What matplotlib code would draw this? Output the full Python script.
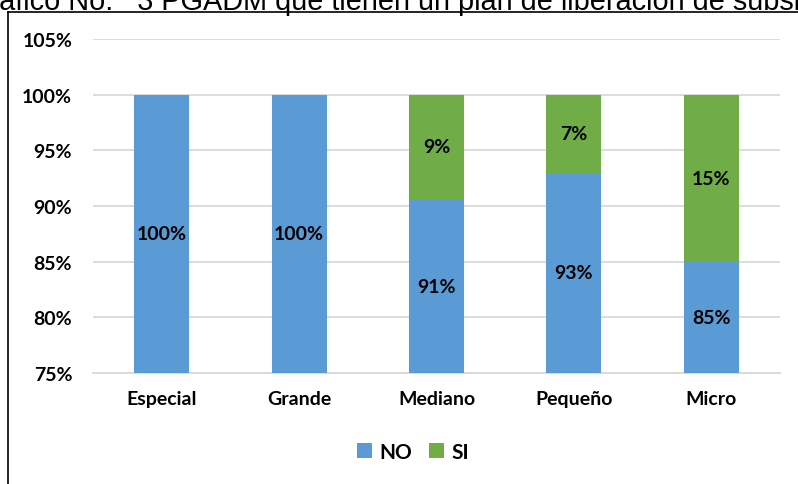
import matplotlib
matplotlib.use("Agg")
import matplotlib.pyplot as plt
from matplotlib.lines import Line2D
from matplotlib.patches import Patch

# Share of PGADM with / without a subsidy release plan, by municipality size
categories = ["Especial", "Grande", "Mediano", "Pequeño", "Micro"]
no_values = [100.0, 100.0, 90.6, 93.0, 85.0]
si_values = [0.0, 0.0, 9.4, 7.0, 15.0]
series_names = ["NO", "SI"]
y_ticks = [75, 80, 85, 90, 95, 100, 105]
title_lead = "Gráfico "
title_mid = "No.   3 PGADM que tienen un plan de "
title_tail = "liberación de subsidios"

BLUE = "#5B9BD5"
GREEN = "#70AD47"
GRID = "#D9D9D9"
W, H = 798, 485

plt.rcParams["font.family"] = ["Lato", "DejaVu Sans"]

fig = plt.figure(figsize=(W / 100, H / 100), dpi=100)
fig.patch.set_facecolor("white")
renderer = fig.canvas.get_renderer()
title_font = ["Liberation Sans", "DejaVu Sans"]


def text_width(s, size):
    t = fig.text(0, 0, s, fontsize=size, family=title_font)
    w = t.get_window_extent(renderer).width
    t.remove()
    return w


# caption above the framed chart, running past both figure edges:
# "No." starts at x=68 px and "liberación" at x=560 px
base = 22
w_x = text_width("X", base)
w_lead = text_width(title_lead + "X", base) - w_x
w_mid = text_width(title_lead + title_mid + "X", base) - w_x - w_lead
size = base * (560 - 68) / w_mid
start = 68 - w_lead * size / base
fig.text(start / W, 1 - 10 / H, title_lead + title_mid + title_tail,
         fontsize=size, family=title_font, ha="left", va="baseline")

# frame around the chart area
fig.add_artist(Line2D([7.5 / W, 7.5 / W], [1 - 12.5 / H, -0.05],
                      transform=fig.transFigure, color="black", lw=1.2))
fig.add_artist(Line2D([7.5 / W, 1.05], [1 - 12.5 / H, 1 - 12.5 / H],
                      transform=fig.transFigure, color="black", lw=1.2))

ax = fig.add_axes([93 / W, 1 - 374 / H, (780 - 93) / W, (374 - 40) / H])
ymin, ymax = y_ticks[0], y_ticks[-1]
x = list(range(len(categories)))
bw = 0.4

ax.bar(x, no_values, width=bw, color=BLUE, zorder=3)
ax.bar(x, si_values, width=bw, bottom=no_values, color=GREEN, zorder=3)

# value labels centred in the visible part of each segment
for i in x:
    segs = [(0.0, no_values[i]), (no_values[i], no_values[i] + si_values[i])]
    for lo, hi in segs:
        val = hi - lo
        if val <= 0:
            continue
        vis_lo, vis_hi = max(lo, ymin), min(hi, ymax)
        ax.text(i, (vis_lo + vis_hi) / 2, f"{val:.0f}%", ha="center",
                va="center", fontsize=14, fontweight="bold", color="black",
                zorder=4)

ax.set_xlim(-0.5, len(categories) - 0.5)
ax.set_ylim(ymin, ymax)
ax.set_yticks(y_ticks)
ax.set_yticklabels([f"{t}%" for t in y_ticks])
ax.set_xticks(x)
ax.set_xticklabels(categories)
for lab in ax.get_xticklabels() + ax.get_yticklabels():
    lab.set_fontweight("bold")
    lab.set_fontsize(14)
ax.tick_params(axis="both", length=0)
ax.tick_params(axis="y", pad=15)
ax.tick_params(axis="x", pad=12)
ax.grid(axis="y", color=GRID, lw=1.3, zorder=0)
for side in ("left", "right", "top"):
    ax.spines[side].set_visible(False)
ax.spines["bottom"].set_color(GRID)
ax.spines["bottom"].set_linewidth(1.3)

handles = [Patch(facecolor=BLUE, label=series_names[0]),
           Patch(facecolor=GREEN, label=series_names[1])]
leg = fig.legend(handles=handles, loc="center", ncol=2,
                 bbox_to_anchor=(413 / W, 1 - 453 / H), frameon=False,
                 handlelength=0.75, handleheight=0.75, handletextpad=0.35,
                 columnspacing=0.8, prop={"weight": "bold", "size": 15})

fig.savefig("out.png", dpi=100, facecolor="white")
